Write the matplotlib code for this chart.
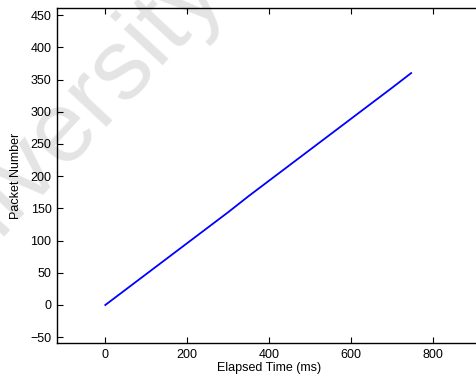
import numpy as np
import matplotlib.pyplot as plt

plt.rcParams["font.family"] = ["Liberation Sans", "DejaVu Sans"]

# packet arrival trace
elapsed_ms = [0, 50, 100, 150, 200, 250, 300, 350, 400, 450, 500, 550, 600, 650, 700, 747]
packet_no = [0, 24, 48, 72, 96, 120, 144, 169, 193, 217, 241, 265, 289, 313, 337, 360]

X_TICKS = [0, 200, 400, 600, 800]
Y_TICKS = [-50, 0, 50, 100, 150, 200, 250, 300, 350, 400, 450]

W, H = 476, 381
fig = plt.figure(figsize=(W / 100, H / 100), dpi=100, facecolor="white")

# faint watermark from the source document, kept behind everything else
fig.text(76 / W, 1 - 152 / H, "University", fontsize=72, color="#e4e4e4",
         rotation=47, rotation_mode="anchor", ha="center", va="baseline",
         zorder=-5)

# axes runs slightly past the right edge of the image, like the cropped original
left, right, top, bottom = 57, 482, 8, 343
ax = fig.add_axes([left / W, 1 - bottom / H, (right - left) / W, (bottom - top) / H])
ax.patch.set_alpha(0)

ax.plot(elapsed_ms, packet_no, color="#0000ff", lw=1.3)

ax.set_xlim(-118, 920)
ax.set_ylim(-59, 461)
ax.set_xticks(X_TICKS)
ax.set_yticks(Y_TICKS)
ax.set_yticklabels([("\u2212" + str(-v)) if v < 0 else str(v) for v in Y_TICKS])

ax.tick_params(direction="in", length=4, width=0.8, labelsize=9, pad=4,
               top=True, right=False)
for s in ax.spines.values():
    s.set_linewidth(1.0)
ax.spines["right"].set_visible(False)

ax.set_xlabel("Elapsed Time (ms)", fontsize=9, labelpad=1)
ax.set_ylabel("Packet Number", fontsize=9, labelpad=6)

fig.savefig("out.png", dpi=100, facecolor="white")
